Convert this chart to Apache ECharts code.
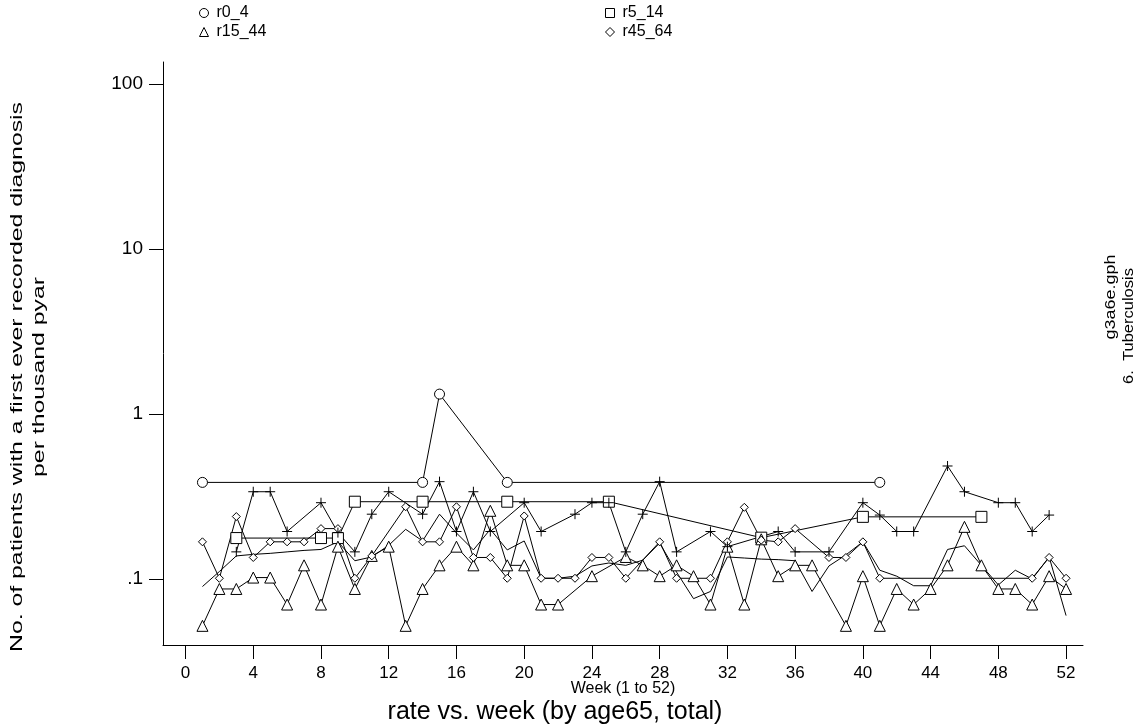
<!DOCTYPE html>
<html>
<head>
<meta charset="utf-8">
<script src="https://cdn.jsdelivr.net/npm/echarts@6/dist/echarts.min.js"></script>
<style>
html,body{margin:0;padding:0;background:#fff;}
#chart{width:1145px;height:726px;}
</style>
</head>
<body>
<div id="chart"></div>
<script>
// ---------- data ----------
const weeks = [1,2,3,4,5,6,7,8,9,10,11,12,13,14,15,16,17,18,19,20,21,22,23,24,25,26,
               27,28,29,30,31,32,33,34,35,36,37,38,39,40,41,42,43,44,45,46,47,48,49,50,51,52];

const r0_4 = [0.385,null,null,null,null,null,null,null,null,null,null,null,null,0.385,1.32,null,null,null,0.385,null,
              null,null,null,null,null,null,null,null,null,null,null,null,null,null,null,null,null,null,null,null,
              0.385,null,null,null,null,null,null,null,null,null,null,null];

const r5_14 = [null,null,0.177,null,null,null,null,0.177,0.177,0.294,null,null,null,0.294,null,null,null,null,0.294,null,
               null,null,null,null,0.294,null,null,null,null,null,null,null,null,0.178,null,null,null,null,null,0.238,
               null,null,null,null,null,null,0.238,null,null,null,null,null];

const r15_44 = [0.052,0.087,0.087,0.102,0.102,0.070,0.121,0.070,0.157,0.087,0.138,0.157,0.052,0.087,0.121,0.157,0.121,0.259,0.121,0.121,
                0.070,0.070,null,0.104,null,0.136,0.121,0.104,0.121,0.104,0.070,0.157,0.070,0.174,0.104,0.121,0.121,null,0.052,0.104,
                0.052,0.087,0.070,0.087,0.121,0.207,0.121,0.087,0.087,0.070,0.104,0.087];

const r45_64 = [0.168,0.101,0.239,0.135,0.168,0.168,0.168,0.202,0.202,0.101,0.138,null,0.274,0.168,0.168,0.274,0.135,0.135,0.101,0.241,
                0.101,0.101,0.101,0.135,0.135,0.101,null,0.168,0.101,null,0.101,0.168,0.272,0.172,0.168,0.202,null,0.135,0.135,0.168,
                0.101,null,null,null,null,null,null,null,null,0.101,0.135,0.101];

const r65 = [null,null,0.146,0.338,0.338,0.194,null,0.290,0.191,0.146,0.247,0.338,null,0.247,0.389,0.194,0.338,0.194,null,0.290,
             0.194,null,0.247,0.290,0.290,0.146,0.247,0.389,0.146,null,0.194,0.157,null,null,0.194,0.146,null,0.146,null,0.290,
             0.244,0.194,0.194,null,0.484,0.338,null,0.290,0.290,0.194,0.244,null];

const total = [0.090,0.111,0.138,0.141,0.143,0.146,0.149,0.151,0.168,0.129,0.136,0.160,0.200,0.170,0.247,0.190,0.150,0.200,0.150,0.170,
               0.101,0.101,0.104,0.120,0.125,0.121,0.130,0.165,0.110,0.076,0.084,0.136,0.134,0.132,0.131,0.129,0.084,0.120,0.140,0.168,
               0.113,0.104,0.091,0.091,0.151,0.159,0.121,0.092,0.113,0.100,0.136,0.060];

const xTicks = [0,4,8,12,16,20,24,28,32,36,40,44,48,52];
const yTicks = [0.1,1,10,100];
const yTickLabels = ['.1','1','10','100'];

// ---------- chart ----------
function pairs(arr){
  const out = [];
  for (let i = 0; i < weeks.length; i++) if (arr[i] != null) out.push([weeks[i], arr[i]]);
  return out;
}

const chart = echarts.init(document.getElementById('chart'), null, {renderer:'canvas'});
const black = '#000';
const baseFont = '"Liberation Sans", Arial, sans-serif';

function lineSeries(name, arr, symbol, size){
  return {
    name: name, type: 'line', data: pairs(arr),
    symbol: symbol, symbolSize: size, showSymbol: true,
    connectNulls: true, animation: false,
    lineStyle: {color: black, width: 1},
    itemStyle: {color: '#fff', borderColor: black, borderWidth: 1},
    emphasis: {disabled: true}
  };
}

const legendText = {fontSize: 16, color: black, fontFamily: baseFont, padding: [0,0,0,3]};

const option = {
  backgroundColor: '#fff',
  animation: false,
  textStyle: {fontFamily: baseFont, color: black},
  grid: {left: 163, right: 62, top: 62, bottom: 81, containLabel: false},
  title: {
    text: 'rate vs. week (by age65, total)',
    left: 555, top: 700, textAlign: 'center', padding: 0,
    textStyle: {fontFamily: baseFont, fontSize: 25, fontWeight: 'normal', color: black}
  },
  legend: [
    {left: 199, top: 5, orient: 'vertical', itemGap: 3, itemWidth: 9, itemHeight: 9, padding: 0,
     textStyle: legendText,
     itemStyle: {color: '#fff', borderColor: black, borderWidth: 1},
     selectedMode: false,
     data: [{name: 'r0_4', icon: 'circle'}, {name: 'r15_44', icon: 'triangle'}]},
    {left: 605, top: 5, orient: 'vertical', itemGap: 3, itemWidth: 9, itemHeight: 9, padding: 0,
     textStyle: legendText,
     itemStyle: {color: '#fff', borderColor: black, borderWidth: 1},
     selectedMode: false,
     data: [{name: 'r5_14', icon: 'rect'}, {name: 'r45_64', icon: 'diamond'}]}
  ],
  xAxis: {
    type: 'value', min: -1.33, max: 53,
    name: 'Week (1 to 52)', nameLocation: 'middle', nameGap: 36, nameMoveOverlap: false,
    nameTextStyle: {fontFamily: baseFont, fontSize: 16, color: black},
    axisLine: {show: true, onZero: false, lineStyle: {color: black, width: 1}},
    axisTick: {show: true, length: 14, lineStyle: {color: black}, customValues: xTicks},
    axisLabel: {show: true, margin: 20, fontFamily: baseFont, fontSize: 17, color: black, customValues: xTicks},
    splitLine: {show: false}
  },
  yAxis: {
    type: 'log', logBase: 10, min: 0.0398, max: 136,
    axisLine: {show: true, onZero: false, lineStyle: {color: black, width: 1}},
    axisTick: {show: true, length: 14, lineStyle: {color: black}, customValues: yTicks},
    axisLabel: {show: true, margin: 20, fontSize: 19, color: black, fontFamily: baseFont,
      customValues: yTicks,
      formatter: function(v){ const i = yTicks.findIndex(t => Math.abs(t - v) / t < 1e-6); return i >= 0 ? yTickLabels[i] : ''; }},
    splitLine: {show: false}, minorTick: {show: false}
  },
  graphic: [
    {type: 'text', x: 29, y: 377, rotation: Math.PI / 2, scaleX: 1.55, scaleY: 1,
     style: {text: 'No. of patients with a first ever recorded diagnosis\nper thousand pyar',
             fontFamily: baseFont, fontSize: 16, fill: black, align: 'center', verticalAlign: 'middle', lineHeight: 22}},
    {type: 'text', x: 1111, y: 297, rotation: Math.PI / 2, scaleX: 1.2, scaleY: 1,
     style: {text: 'g3a6e.gph', fontFamily: baseFont, fontSize: 15, fill: black,
             align: 'center', verticalAlign: 'middle'}},
    {type: 'text', x: 1129, y: 326, rotation: Math.PI / 2, scaleX: 1.1, scaleY: 1,
     style: {text: '6.  Tuberculosis', fontFamily: baseFont, fontSize: 15, fill: black,
             align: 'center', verticalAlign: 'middle'}}
  ],
  series: [
    lineSeries('r0_4', r0_4, 'circle', 10),
    lineSeries('r5_14', r5_14, 'rect', 11),
    lineSeries('r15_44', r15_44, 'triangle', 11),
    lineSeries('r45_64', r45_64, 'diamond', 8),
    Object.assign(lineSeries('r65', r65, 'path://M0,5L10,5M5,0L5,10', 10),
                  {itemStyle: {color: 'none', borderColor: black, borderWidth: 1}}),
    {name: 'total', type: 'line', data: pairs(total), symbol: 'none', connectNulls: true,
     lineStyle: {color: black, width: 1}, animation: false, emphasis: {disabled: true}}
  ]
};
chart.setOption(option);
</script>
</body>
</html>
